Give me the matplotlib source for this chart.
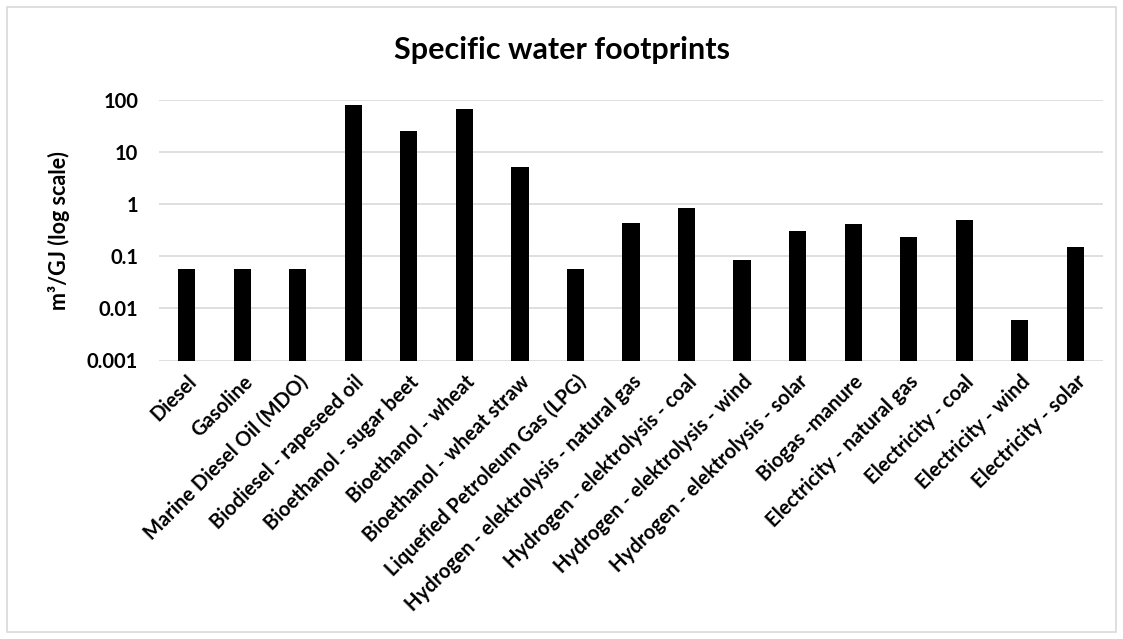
import matplotlib
matplotlib.use("Agg")
import matplotlib.pyplot as plt
from matplotlib.patches import Rectangle

categories = ["Diesel", "Gasoline", "Marine Diesel Oil (MDO)", "Biodiesel - rapeseed oil",
              "Bioethanol - sugar beet", "Bioethanol - wheat", "Bioethanol - wheat straw",
              "Liquefied Petroleum Gas (LPG)", "Hydrogen - elektrolysis - natural gas",
              "Hydrogen - elektrolysis - coal", "Hydrogen - elektrolysis - wind",
              "Hydrogen - elektrolysis - solar", "Biogas -manure", "Electricity - natural gas",
              "Electricity - coal", "Electricity - wind", "Electricity - solar"]
values = [0.057, 0.057, 0.057, 79, 25.7, 68, 5.2, 0.057, 0.445, 0.86, 0.085,
          0.31, 0.41, 0.235, 0.49, 0.006, 0.149]
yticks = [0.001, 0.01, 0.1, 1, 10, 100]
yticklabels = ["0.001", "0.01", "0.1", "1", "10", "100"]

plt.rcParams['font.family'] = ['Lato', 'DejaVu Sans']

fig = plt.figure(figsize=(11.23, 6.39), dpi=100)
ax = fig.add_axes([159/1123, 1 - 360.5/639, (1103-159)/1123, (360.5-100)/639])

x = list(range(len(categories)))
ax.bar(x, values, width=0.31, color='black', zorder=3)
ax.set_yscale('log')
ax.set_ylim(0.001, 100)
ax.set_xlim(-0.5, len(categories) - 0.5)
ax.set_yticks(yticks)
ax.set_yticklabels(yticklabels, fontsize=14.5, fontweight='bold')
ax.minorticks_off()
ax.yaxis.grid(True, color='#d9d9d9', linewidth=1.2, zorder=0)
ax.tick_params(axis='both', length=0)
ax.tick_params(axis='y', pad=15)
for s in ax.spines.values():
    s.set_visible(False)
ax.set_xticks(x)
ax.set_xticklabels(categories, rotation=45, ha='right', rotation_mode='anchor',
                   fontsize=14.5, fontweight='bold')
ax.tick_params(axis='x', pad=8)
ax.set_ylabel("m³/GJ (log scale)", fontsize=15.5, fontweight='bold', labelpad=12)

fig.text(0.5, 1 - 50/639, "Specific water footprints", ha='center', va='center',
         fontsize=22, fontweight='bold')

fig.patches.append(Rectangle((7/1123, 7/639), 1 - 14/1123, 1 - 14/639,
                             transform=fig.transFigure, fill=False,
                             edgecolor='#d9d9d9', linewidth=1.2))

fig.savefig("out.png", dpi=100)
